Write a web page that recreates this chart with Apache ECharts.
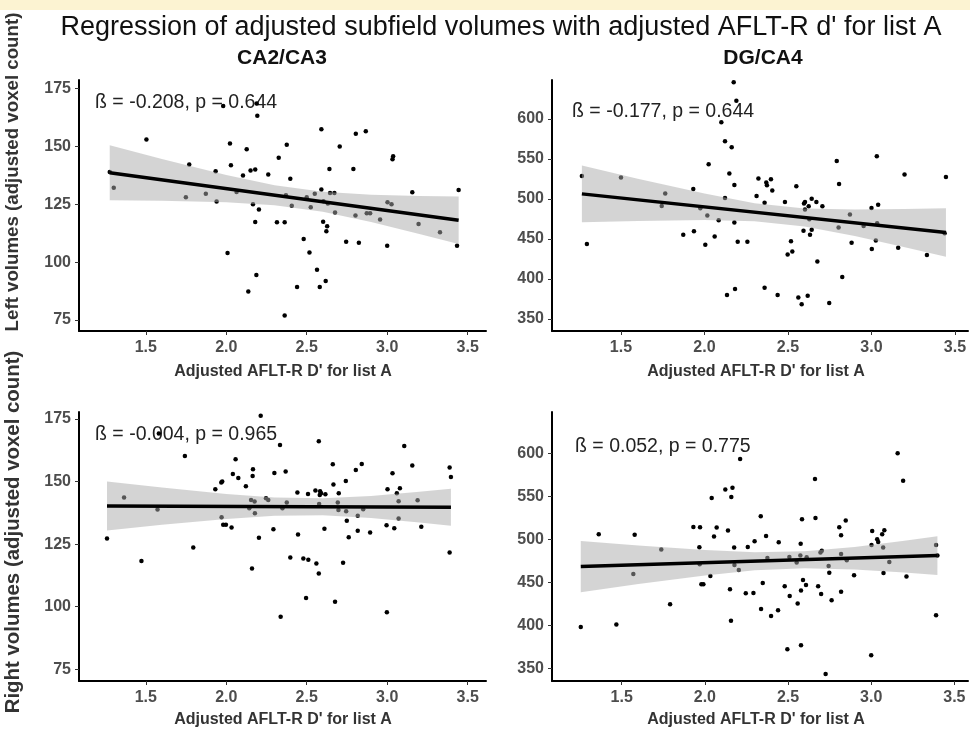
<!DOCTYPE html>
<html>
<head>
<meta charset="utf-8">
<script src="https://cdn.jsdelivr.net/npm/echarts@6/dist/echarts.min.js"></script>
<style>
  html, body { margin: 0; padding: 0; background: #fff; }
  #chart { width: 970px; height: 733px; }
</style>
</head>
<body>
<div id="chart"></div>
<script>
// tick values
var xTicks = [1.5, 2.0, 2.5, 3.0, 3.5];
var caTicks = [75, 100, 125, 150, 175];
var dgTicks = [350, 400, 450, 500, 550, 600];

// CA2/CA3 left  [AFLT-R d', volume]
var caLeftPts = [[1.276,138.9],[1.301,132.1],[1.504,153.0],[1.749,128.0],[1.770,142.2],[1.873,129.6],[1.934,139.3],[1.940,126.2],[1.981,167.5],[2.008,104.0],[2.023,151.3],[2.029,141.9],[2.064,130.3],[2.104,137.4],[2.127,148.8],[2.137,87.3],[2.151,139.6],[2.166,125.0],[2.180,140.0],[2.180,117.3],[2.187,94.5],[2.189,168.6],[2.193,163.2],[2.203,122.7],[2.261,137.9],[2.315,117.2],[2.326,145.1],[2.363,117.2],[2.363,76.9],[2.371,128.9],[2.376,150.7],[2.398,136.0],[2.407,124.4],[2.440,89.3],[2.481,110.0],[2.500,128.0],[2.517,104.2],[2.525,123.7],[2.550,129.5],[2.564,96.7],[2.581,89.3],[2.591,157.4],[2.591,131.4],[2.602,117.5],[2.604,126.3],[2.618,91.9],[2.622,113.4],[2.627,115.5],[2.631,125.3],[2.641,140.2],[2.645,129.9],[2.672,129.9],[2.676,121.5],[2.705,150.0],[2.745,108.8],[2.790,140.2],[2.803,120.2],[2.805,155.5],[2.824,108.4],[2.867,156.6],[2.873,121.1],[2.894,121.1],[2.956,118.4],[3.000,107.1],[3.002,125.9],[3.027,125.0],[3.033,144.5],[3.037,145.8],[3.156,130.2],[3.195,116.5],[3.328,112.9],[3.434,107.1],[3.444,131.2]];
var caLeftFit = [[1.276,138.6],[3.444,118.1]];
var caLeftBand = [[1.276,126.7,150.5],[1.6,126.5,144.6],[2.0,125.9,137.7],[2.3,124.6,133.2],[2.6,121.8,130.4],[2.9,117.3,129.1],[3.2,112.2,128.6],[3.444,107.8,128.4]];

// DG/CA4 left
var dgLeftPts = [[1.266,528.9],[1.296,443.6],[1.500,526.8],[1.744,491.4],[1.765,506.8],[1.873,455.2],[1.933,512.6],[1.937,459.8],[1.975,488.5],[2.005,442.8],[2.017,479.4],[2.025,543.4],[2.061,453.2],[2.085,473.5],[2.101,595.8],[2.123,572.1],[2.123,501.4],[2.135,379.9],[2.149,531.8],[2.163,564.6],[2.175,645.8],[2.179,517.6],[2.179,470.6],[2.183,387.4],[2.191,622.9],[2.199,446.5],[2.257,446.5],[2.312,503.9],[2.323,525.5],[2.360,495.2],[2.360,389.1],[2.370,520.5],[2.374,517.2],[2.398,524.7],[2.406,510.6],[2.438,379.9],[2.482,496.4],[2.498,430.7],[2.518,447.3],[2.526,434.4],[2.550,516.0],[2.562,377.0],[2.582,368.3],[2.593,460.2],[2.596,494.3],[2.602,496.4],[2.602,486.9],[2.618,379.1],[2.624,491.0],[2.628,474.8],[2.632,455.2],[2.642,500.2],[2.642,461.5],[2.670,496.4],[2.676,421.9],[2.706,491.0],[2.747,369.9],[2.792,547.6],[2.803,464.4],[2.806,518.9],[2.825,402.4],[2.871,480.6],[2.881,445.3],[2.953,466.1],[3.000,488.9],[3.002,437.4],[3.026,448.2],[3.032,553.4],[3.034,469.8],[3.040,492.7],[3.160,439.0],[3.198,530.5],[3.332,429.9],[3.438,457.3],[3.446,527.6]];
var dgLeftFit = [[1.266,506.4],[3.446,458.2]];
var dgLeftBand = [[1.266,471.0,541.8],[1.6,472.6,525.4],[2.0,473.6,506.8],[2.3,472.2,494.8],[2.6,465.6,488.2],[2.9,453.7,486.9],[3.2,439.8,487.4],[3.446,427.9,488.5]];

// CA2/CA3 right
var caRightPts = [[1.259,127.2],[1.365,143.6],[1.473,118.3],[1.573,138.8],[1.581,169.2],[1.743,160.2],[1.795,123.7],[1.932,146.9],[1.969,149.6],[1.975,150.0],[1.971,135.7],[1.981,132.7],[1.998,132.7],[2.033,131.6],[2.041,153.0],[2.058,158.9],[2.075,151.4],[2.122,148.1],[2.143,139.3],[2.154,142.6],[2.160,115.3],[2.164,152.2],[2.166,154.9],[2.176,142.0],[2.178,137.3],[2.203,127.5],[2.214,176.3],[2.247,143.3],[2.261,142.6],[2.293,130.9],[2.299,153.4],[2.334,164.6],[2.338,96.0],[2.349,139.3],[2.369,154.0],[2.376,141.6],[2.398,119.7],[2.442,145.6],[2.446,128.8],[2.479,119.3],[2.496,103.5],[2.508,145.0],[2.510,118.8],[2.554,146.4],[2.560,117.3],[2.575,166.1],[2.575,113.3],[2.577,141.0],[2.581,144.6],[2.583,146.1],[2.589,145.3],[2.610,131.1],[2.616,144.9],[2.662,156.9],[2.666,148.8],[2.676,102.0],[2.693,141.6],[2.699,145.3],[2.697,138.6],[2.726,117.6],[2.743,150.2],[2.745,138.1],[2.749,134.3],[2.761,127.7],[2.805,154.6],[2.817,130.3],[2.817,136.3],[2.842,157.0],[2.851,138.9],[2.894,129.6],[2.998,97.8],[3.002,146.9],[2.996,132.5],[3.033,153.3],[3.044,131.3],[3.060,145.3],[3.071,142.1],[3.071,135.2],[3.079,147.3],[3.106,164.2],[3.156,156.4],[3.189,142.5],[3.212,131.9],[3.388,155.6],[3.396,151.8],[3.388,121.7]];
var caRightFit = [[1.259,140.2],[3.396,139.7]];
var caRightBand = [[1.259,130.4,150.0],[1.6,132.7,147.6],[2.0,135.0,145.0],[2.3,136.3,143.6],[2.6,136.5,143.3],[2.9,135.4,144.2],[3.2,133.6,145.9],[3.396,132.3,147.1]];

// DG/CA4 right
var dgRightPts = [[1.254,398.1],[1.362,505.8],[1.468,400.8],[1.570,459.7],[1.578,505.4],[1.738,488.0],[1.791,424.4],[1.931,514.3],[1.967,490.7],[1.969,470.9],[1.971,514.0],[1.979,447.7],[1.991,447.7],[2.033,457.4],[2.041,548.1],[2.055,503.1],[2.071,513.6],[2.123,557.8],[2.139,510.1],[2.151,441.9],[2.157,405.4],[2.159,549.2],[2.166,559.9],[2.176,490.3],[2.178,470.2],[2.204,464.3],[2.212,593.4],[2.246,437.2],[2.258,491.1],[2.292,437.6],[2.299,497.7],[2.336,526.7],[2.338,419.0],[2.348,449.2],[2.368,503.9],[2.376,478.3],[2.398,410.9],[2.440,417.4],[2.444,496.5],[2.480,445.3],[2.496,372.1],[2.508,479.5],[2.510,434.1],[2.552,472.9],[2.558,425.2],[2.574,481.0],[2.576,494.9],[2.578,440.3],[2.578,376.7],[2.584,523.3],[2.590,452.7],[2.608,446.9],[2.612,479.1],[2.662,570.2],[2.665,524.8],[2.681,445.3],[2.695,484.5],[2.699,436.4],[2.703,486.8],[2.726,343.4],[2.744,469.0],[2.748,461.2],[2.762,429.1],[2.808,514.0],[2.819,504.7],[2.819,482.9],[2.819,439.1],[2.847,521.7],[2.853,475.6],[2.897,458.1],[3.000,365.1],[3.002,493.4],[3.006,509.7],[3.036,500.0],[3.042,496.9],[3.066,505.8],[3.072,490.3],[3.074,460.9],[3.079,510.5],[3.109,473.6],[3.159,600.0],[3.192,568.2],[3.212,456.6],[3.390,493.4],[3.390,411.6],[3.398,481.0]];
var dgRightFit = [[1.254,468.2],[3.398,481.0]];
var dgRightBand = [[1.254,438.5,497.9],[1.6,447.9,492.7],[2.0,457.9,487.5],[2.3,463.9,484.9],[2.6,466.4,486.0],[2.9,464.9,491.1],[3.2,461.4,498.2],[3.398,458.6,503.4]];

var stats = ['\u00df = -0.208, p = 0.644', '\u00df = -0.177, p = 0.644', '\u00df = -0.004, p = 0.965', '\u00df = 0.052, p = 0.775'];

var FONT = '"Liberation Sans", Arial, sans-serif';

var panels = [
    {grid: {left: 79, top: 80, width: 407, height: 251}, x: [1.085, 3.614], y: [70.25, 178.7], yt: caTicks, pts: caLeftPts, fit: caLeftFit, band: caLeftBand},
    {grid: {left: 552, top: 80, width: 416, height: 251}, x: [1.087, 3.578], y: [335, 648.75], yt: dgTicks, pts: dgLeftPts, fit: dgLeftFit, band: dgLeftBand},
    {grid: {left: 79, top: 412, width: 407, height: 269}, x: [1.085, 3.614], y: [70.3, 177.8], yt: caTicks, pts: caRightPts, fit: caRightFit, band: caRightBand},
    {grid: {left: 552, top: 412, width: 416, height: 269}, x: [1.081, 3.582], y: [335.2, 648], yt: dgTicks, pts: dgRightPts, fit: dgRightFit, band: dgRightBand}
];

var grids = [], xAxes = [], yAxes = [], series = [];

panels.forEach(function (p, i) {
    grids.push(p.grid);
    xAxes.push({
        type: 'value', gridIndex: i, min: p.x[0], max: p.x[1],
        axisLine: {onZero: false, lineStyle: {color: '#000', width: 2}},
        axisTick: {customValues: xTicks, length: 4, lineStyle: {color: '#333'}},
        axisLabel: {customValues: xTicks, formatter: function (v) { return v.toFixed(1); },
            fontSize: 16, fontWeight: 'bold', color: '#4d4d4d', margin: 9, fontFamily: FONT},
        splitLine: {show: false}
    });
    yAxes.push({
        type: 'value', gridIndex: i, min: p.y[0], max: p.y[1],
        axisLine: {show: true, onZero: false, lineStyle: {color: '#000', width: 2}},
        axisTick: {show: true, customValues: p.yt, length: 4, lineStyle: {color: '#333'}},
        axisLabel: {customValues: p.yt, fontSize: 16, fontWeight: 'bold', color: '#4d4d4d', margin: 8, fontFamily: FONT},
        splitLine: {show: false}
    });
    series.push({
        type: 'scatter', xAxisIndex: i, yAxisIndex: i, data: p.pts,
        symbolSize: 4.5, itemStyle: {color: '#000', opacity: 1}, z: 2
    });
    var band = p.band;
    series.push({
        type: 'custom', xAxisIndex: i, yAxisIndex: i, data: band,
        encode: {x: 0, y: [1, 2]}, silent: true, z: 3,
        renderItem: function (params, api) {
            if (params.dataIndex !== 0) return null;
            var top = band.map(function (d) { return api.coord([d[0], d[2]]); });
            var bot = band.slice().reverse().map(function (d) { return api.coord([d[0], d[1]]); });
            return {type: 'polygon', shape: {points: top.concat(bot)},
                style: {fill: 'rgba(170,170,170,0.5)', stroke: null}};
        }
    });
    series.push({
        type: 'line', xAxisIndex: i, yAxisIndex: i, data: p.fit,
        showSymbol: false, lineStyle: {color: '#000', width: 3.5}, z: 4
    });
});

function label(text, x, y, size, weight, color, extra) {
    var el = {type: 'text', x: x, y: y, style: {text: text, fontSize: size, fontWeight: weight,
        fontFamily: FONT, fill: color, textAlign: 'center', textVerticalAlign: 'middle'}};
    if (extra) Object.keys(extra).forEach(function (k) { el[k] = extra[k]; });
    return el;
}

var chart = echarts.init(document.getElementById('chart'));
chart.setOption({
    animation: false,
    backgroundColor: '#fff',
    grid: grids,
    xAxis: xAxes,
    yAxis: yAxes,
    series: series,
    graphic: [
        {type: 'rect', shape: {x: 0, y: 0, width: 970, height: 10}, style: {fill: '#fcf3d2'}},
        label("Regression of adjusted subfield volumes with adjusted AFLT-R d' for list A", 501, 28, 27, 'normal', '#111'),
        label('CA2/CA3', 282, 58, 21, 'bold', '#111'),
        label('DG/CA4', 763, 58, 21, 'bold', '#111'),
        label("Adjusted AFLT-R D' for list A", 283, 372, 16, 'bold', '#333'),
        label("Adjusted AFLT-R D' for list A", 756, 372, 16, 'bold', '#333'),
        label("Adjusted AFLT-R D' for list A", 283, 720, 16, 'bold', '#333'),
        label("Adjusted AFLT-R D' for list A", 756, 720, 16, 'bold', '#333'),
        label('Left volumes (adjusted voxel count)', 13, 172, 18.7, 'bold', '#333', {rotation: Math.PI / 2}),
        label('Right volumes (adjusted voxel count)', 13, 532, 20.4, 'bold', '#333', {rotation: Math.PI / 2}),
        {type: 'text', x: 95, y: 103, style: {text: stats[0], fontSize: 19.5, fontFamily: FONT, fill: '#222', textVerticalAlign: 'middle'}},
        {type: 'text', x: 572, y: 112, style: {text: stats[1], fontSize: 19.5, fontFamily: FONT, fill: '#222', textVerticalAlign: 'middle'}},
        {type: 'text', x: 95, y: 435, style: {text: stats[2], fontSize: 19.5, fontFamily: FONT, fill: '#222', textVerticalAlign: 'middle'}},
        {type: 'text', x: 575, y: 447, style: {text: stats[3], fontSize: 19.5, fontFamily: FONT, fill: '#222', textVerticalAlign: 'middle'}}
    ]
});
</script>
</body>
</html>
